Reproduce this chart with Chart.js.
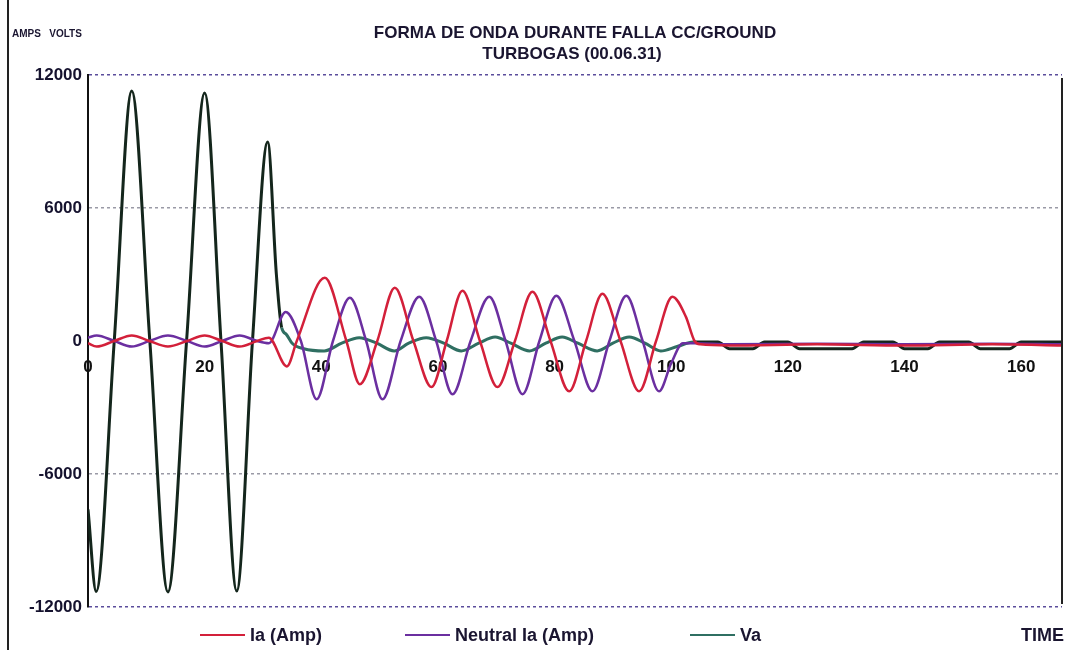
<!DOCTYPE html>
<html>
<head>
<meta charset="utf-8">
<script src="https://cdn.jsdelivr.net/npm/chart.js"></script>
<style>
  body { margin: 0; background: #fff; }
  #wrap { width: 1074px; height: 650px; }
</style>
</head>
<body>
<div id="wrap"><canvas id="myChart" width="1074" height="650"></canvas></div>
<script>
// values (time in samples, amps / volts)
var vaTime = [0, 1.4, 4.5, 7.5, 10.6, 13.7, 16.9, 20, 22.8, 25.5, 28.2, 30.8, 32.3, 33.2, 34, 35, 37, 40.5, 43.5, 46.5, 49.5, 52.5, 55, 58, 61, 64, 67, 69.8, 72.5, 75.7, 78.5, 81.3, 84, 87.3, 90, 92.8, 95.5, 98.2, 101, 103.8, 108, 110, 114, 116, 120, 122, 131, 133, 138, 140, 144, 146, 151, 153, 158, 160, 167];
var vaValues = [-7600, -11300, 0, 11280, 0, -11320, 0, 11190, 0, -11280, 0, 8980, 3000, 600, 300, -100, -350, -450, -100, 150, -100, -450, -100, 150, -100, -450, -100, 180, -100, -450, -100, 180, -100, -450, -100, 180, -100, -450, -250, -50, -50, -350, -350, -50, -50, -350, -350, -50, -50, -350, -350, -50, -50, -350, -350, -50, -50];

var iaTime = [0, 1.5, 4.5, 7.5, 10.5, 13.7, 17, 20, 23, 26, 29, 31, 34.1, 35.8, 40.6, 44.3, 46.6, 49.6, 52.6, 55.8, 58.9, 61.5, 64.2, 67.2, 70.2, 73.2, 76.2, 79.3, 82.5, 85.4, 88.2, 91.3, 94.5, 97.4, 100.2, 102.5, 104, 105, 110, 125, 140, 155, 167];
var iaValues = [-100, -250, 0, 250, 0, -250, 0, 250, 0, -250, 0, 150, -1150, 0, 2850, 0, -1950, 0, 2400, 0, -2080, 0, 2270, 0, -2080, 0, 2220, 0, -2270, 0, 2130, 0, -2270, 0, 2000, 1100, 0, -150, -200, -150, -200, -150, -200];

var inTime = [0, 1.5, 4.5, 7.5, 10.5, 13.7, 17, 20, 23, 26, 29, 31, 33.9, 36.5, 39.2, 42, 44.9, 47.7, 50.5, 53.6, 56.8, 59.7, 62.5, 65.6, 68.8, 71.6, 74.5, 77.4, 80.3, 83.4, 86.5, 89.4, 92.3, 95.1, 97.9, 100, 102, 104, 110, 125, 140, 155, 167];
var inValues = [150, 250, 0, -250, 0, 250, 0, -250, 0, 250, 0, -100, 1310, 0, -2630, 0, 1950, 0, -2630, 0, 2000, 0, -2400, 0, 2000, 0, -2400, 0, 2040, 0, -2270, 0, 2040, 0, -2270, -1000, -100, -100, -150, -120, -150, -120, -150];

var xTicks = [0, 20, 40, 60, 80, 100, 120, 140, 160];
var yTicks = [-12000, -6000, 0, 6000, 12000];
var seriesNames = ["Ia (Amp)", "Neutral Ia (Amp)", "Va"];
var seriesColors = ["#d3203a", "#6b2fa0", "#2f6f62"];

var FONT = "'Liberation Sans Narrow', 'Liberation Sans', Arial, sans-serif";

function pts(t, v) {
  var out = [];
  for (var i = 0; i < t.length; i++) out.push({ x: t[i], y: v[i] });
  return out;
}

var decor = {
  id: 'decor',
  afterDraw: function(chart) {
    var c = chart.ctx, a = chart.chartArea;
    c.save();
    // scan edge + right border of plot
    c.strokeStyle = '#222';
    c.lineWidth = 2;
    c.beginPath(); c.moveTo(8, 0); c.lineTo(8, 650); c.stroke();
    c.beginPath(); c.moveTo(a.right, a.top + 3); c.lineTo(a.right, a.bottom - 3); c.stroke();

    c.fillStyle = '#1a1530';
    c.textAlign = 'center';
    c.textBaseline = 'middle';
    c.font = 'bold 17px ' + FONT;
    c.fillText('FORMA DE ONDA DURANTE FALLA CC/GROUND', 575, 33);
    c.fillText('TURBOGAS (00.06.31)', 572, 54);

    c.textAlign = 'left';
    c.font = 'bold 10px ' + FONT;
    c.fillText('AMPS   VOLTS', 12, 34);

    // legend
    var lx = [200, 405, 690];
    c.font = 'bold 18px ' + FONT;
    for (var i = 0; i < seriesNames.length; i++) {
      c.strokeStyle = seriesColors[i];
      c.lineWidth = 2;
      c.beginPath(); c.moveTo(lx[i], 635); c.lineTo(lx[i] + 45, 635); c.stroke();
      c.fillText(seriesNames[i], lx[i] + 50, 636);
    }
    c.textAlign = 'right';
    c.fillText('TIME', 1064, 636);
    c.restore();
  }
};

var ctx = document.getElementById('myChart');

var myChart = new Chart(ctx, {
  type: 'line',
  data: {
    datasets: [{
      label: seriesNames[0],
      data: pts(iaTime, iaValues),
      borderColor: seriesColors[0],
      borderWidth: 2.5,
      order: 1
    }, {
      label: seriesNames[1],
      data: pts(inTime, inValues),
      borderColor: seriesColors[1],
      borderWidth: 2.5,
      order: 2
    }, {
      label: seriesNames[2],
      data: pts(vaTime, vaValues),
      borderColor: '#14261c',
      borderWidth: 3,
      order: 3,
      segment: {
        borderColor: function(s) {
          var x = s.p0.parsed.x;
          return (x >= 33 && x < 103.8) ? seriesColors[2] : '#14261c';
        }
      }
    }]
  },
  options: {
    responsive: false,
    animation: false,
    layout: { padding: { left: 8, top: 75, right: 12, bottom: 43 } },
    elements: {
      point: { radius: 0 },
      line: { cubicInterpolationMode: 'monotone' }
    },
    plugins: {
      legend: { display: false },
      tooltip: { enabled: false }
    },
    scales: {
      x: {
        type: 'linear',
        min: 0,
        max: 167,
        position: { y: 0 },
        afterFit: function(s) { s.height = 0; },
        afterBuildTicks: function(s) {
          s.ticks = xTicks.map(function(v) { return { value: v }; });
        },
        grid: { display: false },
        border: { display: false },
        ticks: {
          autoSkip: false,
          maxRotation: 0,
          padding: 8,
          color: '#111',
          font: { family: FONT, size: 17, weight: 'bold' },
          callback: function(v) { return String(v); }
        }
      },
      y: {
        min: -12000,
        max: 12000,
        afterFit: function(s) { s.width = 80; },
        afterBuildTicks: function(s) {
          s.ticks = yTicks.map(function(v) { return { value: v }; });
        },
        border: { display: true, color: '#111', width: 2, dash: [3, 3] },
        grid: {
          drawTicks: false,
          lineWidth: 1.5,
          color: function(g) {
            var v = g.tick.value;
            if (v === 0) return 'rgba(0,0,0,0)';
            if (Math.abs(v) === 12000) return '#5b4d9c';
            return '#9a9aa6';
          }
        },
        ticks: {
          padding: 6,
          color: '#15122e',
          font: { family: FONT, size: 17, weight: 'bold' },
          callback: function(v) { return String(v); }
        }
      }
    }
  },
  plugins: [decor]
});
</script>
</body>
</html>
